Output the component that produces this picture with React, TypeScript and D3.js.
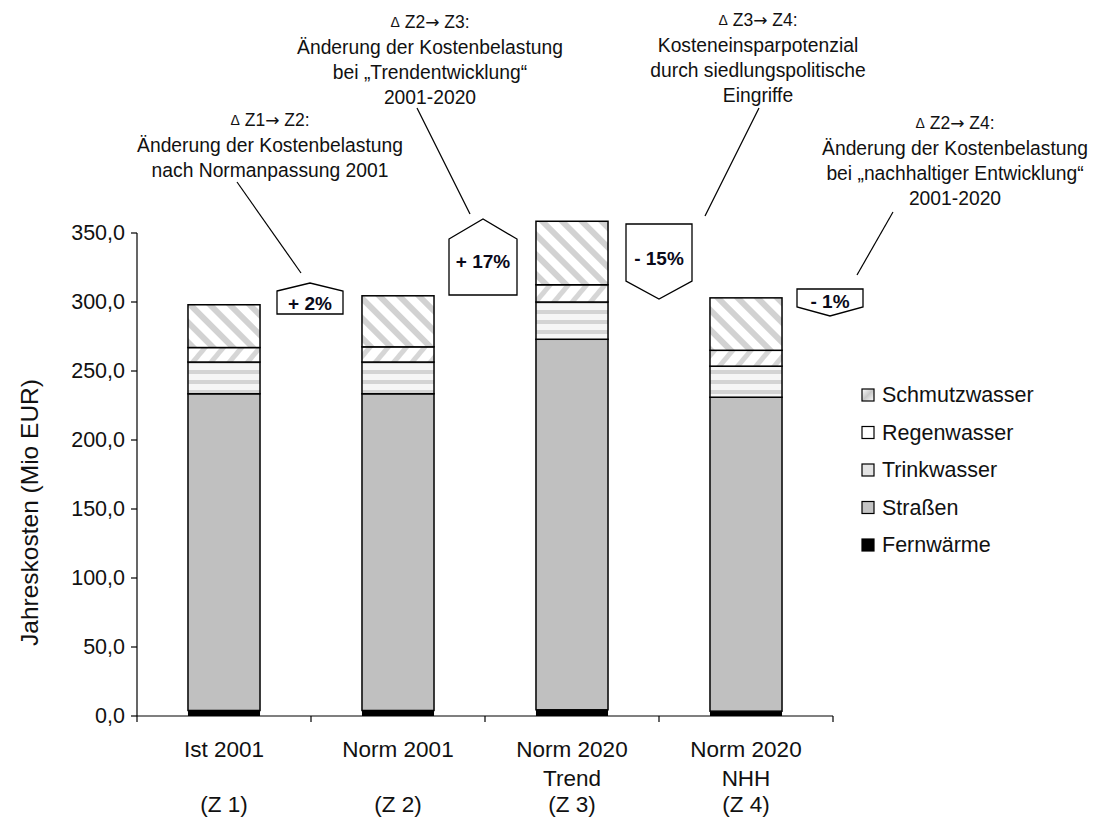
import React from "react";
import * as d3 from "d3";

const categories = ["Z1", "Z2", "Z3", "Z4"];
const catLine1 = ["Ist 2001", "Norm 2001", "Norm 2020", "Norm 2020"];
const catLine2 = ["", "", "Trend", "NHH"];
const catLine3 = ["(Z 1)", "(Z 2)", "(Z 3)", "(Z 4)"];

const fernwaerme = [4, 4, 4.5, 3.5];
const strassen = [229.5, 229.5, 268.5, 227.5];
const trinkwasser = [23, 23, 27, 22.5];
const regenwasser = [10.5, 11, 12.5, 11.5];
const schmutzwasser = [31, 37, 46, 38];

const seriesNames = ["Fernwärme", "Straßen", "Trinkwasser", "Regenwasser", "Schmutzwasser"];
const seriesValues = [fernwaerme, strassen, trinkwasser, regenwasser, schmutzwasser];
const seriesFills = ["#000000", "#c0c0c0", "url(#pTrink)", "url(#pRegen)", "url(#pSchmutz)"];
const legendOrder = ["Schmutzwasser", "Regenwasser", "Trinkwasser", "Straßen", "Fernwärme"];
const legendFills = ["url(#gSchmutz)", "#ffffff", "#e4e4e4", "#c4c4c4", "#000000"];

const yTicks = [0, 50, 100, 150, 200, 250, 300, 350];

const deltaLabels = ["+ 2%", "+ 17%", "- 15%", "- 1%"];
const deltaHeads = [
  ["Z1", "Z2"],
  ["Z2", "Z3"],
  ["Z3", "Z4"],
  ["Z2", "Z4"],
];
const calloutTexts = [
  ["Änderung der Kostenbelastung", "nach Normanpassung 2001"],
  ["Änderung der Kostenbelastung", "bei \u201eTrendentwicklung\u201c", "2001-2020"],
  ["Kosteneinsparpotenzial", "durch siedlungspolitische", "Eingriffe"],
  ["Änderung der Kostenbelastung", "bei \u201enachhaltiger Entwicklung\u201c", "2001-2020"],
];

const W = 1093;
const H = 818;
const FONT = "'Liberation Sans', Arial, sans-serif";

export default function App() {
  const left = 137;
  const right = 833;
  const x = d3
    .scaleBand<string>()
    .domain(categories)
    .range([left, right])
    .paddingInner(0.586)
    .paddingOuter(0.293);
  const y = d3.scaleLinear().domain([0, 350]).range([716, 233]);
  const step = x.step();

  const stackData = categories.map((c, i) => {
    const o: any = { cat: c };
    seriesNames.forEach((s, k) => (o[s] = seriesValues[k][i]));
    return o;
  });
  const stacked = d3.stack().keys(seriesNames)(stackData as any);

  const fmt = (v: number) => v.toFixed(1).replace(".", ",");

  const boundary = (i: number) => left + step * i;
  const b1 = boundary(1) - 1;
  const b2 = boundary(2) - 2;
  const b3 = boundary(3);
  const b4 = boundary(4) - 3;

  const box1 = `M${b1 - 33},${291} L${b1},${283} L${b1 + 33},${291} L${b1 + 33},${314} L${b1 - 33},${314} Z`;
  const box2 = `M${b2 - 34},${239} L${b2},${219} L${b2 + 34},${239} L${b2 + 34},${295} L${b2 - 34},${295} Z`;
  const box3 = `M${b3 - 33},${224} L${b3 + 33},${224} L${b3 + 33},${281} L${b3},${299} L${b3 - 33},${281} Z`;
  const box4 = `M${b4 - 33},${289} L${b4 + 33},${289} L${b4 + 33},${307} L${b4},${316} L${b4 - 33},${307} Z`;
  const boxes = [box1, box2, box3, box4];
  const boxTextY = [303, 261, 258, 301];
  const boxTextX = [b1, b2, b3, b4];

  const calloutX = [270, 430, 758, 955];
  const calloutY0 = [120, 22, 20, 123];
  const leaders = [
    [237, 182, 301, 273],
    [417, 108, 470, 214],
    [759, 108, 705, 216],
    [893, 212, 857, 275],
  ];

  return (
    <svg
      width={W}
      height={H}
      style={{ position: "absolute", left: 0, top: 0, background: "#fff" }}
      fontFamily={FONT}
    >
      <defs>
        <pattern id="pSchmutz" patternUnits="userSpaceOnUse" width="14" height="14" patternTransform="rotate(-45)">
          <rect width="14" height="14" fill="#ffffff" />
          <rect x="0" width="6" height="14" fill="#d2d2d2" />
        </pattern>
        <pattern id="pRegen" patternUnits="userSpaceOnUse" width="14" height="14" patternTransform="rotate(40)">
          <rect width="14" height="14" fill="#ffffff" />
          <rect x="0" width="5" height="14" fill="#d6d6d6" />
        </pattern>
        <pattern id="pTrink" patternUnits="userSpaceOnUse" width="10" height="10">
          <rect width="10" height="10" fill="#f6f6f6" />
          <rect y="0" width="10" height="4" fill="#d4d4d4" />
        </pattern>
        <linearGradient id="gSchmutz" x1="0" y1="0" x2="1" y2="1">
          <stop offset="0" stopColor="#ffffff" />
          <stop offset="0.5" stopColor="#c8c8c8" />
          <stop offset="1" stopColor="#ffffff" />
        </linearGradient>
      </defs>
      <rect width={W} height={H} fill="#ffffff" />

      {stacked.map((layer, k) => (
        <g key={layer.key}>
          {layer.map((d: any, i: number) => (
            <rect
              key={i}
              x={x(categories[i])}
              y={y(d[1])}
              width={x.bandwidth()}
              height={y(d[0]) - y(d[1])}
              fill={seriesFills[k]}
              stroke="#000"
              strokeWidth={k === 0 ? 0 : 1.5}
            />
          ))}
        </g>
      ))}

      <line x1={left} x2={left} y1={y(350)} y2={y(0)} stroke="#000" strokeWidth={1.2} />
      {yTicks.map((t) => (
        <g key={t}>
          <line x1={left - 6} x2={left} y1={y(t)} y2={y(t)} stroke="#000" strokeWidth={1.2} />
          <text
            x={left - 12}
            y={y(t)}
            textAnchor="end"
            dominantBaseline="central"
            fontSize={21.5}
            fill="#111"
          >
            {fmt(t)}
          </text>
        </g>
      ))}
      <text
        transform={`translate(29,${(y(0) + y(350)) / 2 + 38}) rotate(-90)`}
        textAnchor="middle"
        dominantBaseline="central"
        fontSize={24.5}
        fill="#111"
      >
        Jahreskosten (Mio EUR)
      </text>

      <line x1={left} x2={right} y1={y(0)} y2={y(0)} stroke="#000" strokeWidth={1.2} />
      {d3.range(categories.length + 1).map((i) => (
        <line
          key={i}
          x1={boundary(i)}
          x2={boundary(i)}
          y1={y(0)}
          y2={y(0) + 6}
          stroke="#000"
          strokeWidth={1.2}
        />
      ))}
      {categories.map((c, i) => {
        const cx = (x(c) as number) + x.bandwidth() / 2;
        return (
          <g key={c} fontSize={22.5} fill="#111" textAnchor="middle">
            <text x={cx} y={757}>{catLine1[i]}</text>
            {catLine2[i] && <text x={cx} y={786}>{catLine2[i]}</text>}
            <text x={cx} y={812}>{catLine3[i]}</text>
          </g>
        );
      })}

      {legendOrder.map((name, i) => {
        const cy = 395 + i * 37.5;
        return (
          <g key={name}>
            <rect
              x={862}
              y={cy - 6}
              width={12}
              height={12}
              fill={legendFills[i]}
              stroke="#000"
              strokeWidth={1.2}
            />
            <text x={882} y={cy} dominantBaseline="central" fontSize={21.5} fill="#111">
              {name}
            </text>
          </g>
        );
      })}

      {calloutTexts.map((lines, j) => (
        <g key={j}>
          <text
            x={calloutX[j]}
            y={calloutY0[j]}
            textAnchor="middle"
            dominantBaseline="central"
            fontSize={17.5}
            fill="#111"
          >
            <tspan fontSize={14}>{"\u0394"}</tspan>
            {" " + deltaHeads[j][0]}
            <tspan fontFamily="'DejaVu Sans', sans-serif" fontSize={17}>{"\u2192"}</tspan>
            {" " + deltaHeads[j][1] + ":"}
          </text>
          {lines.map((ln, k) => (
            <text
              key={k}
              x={calloutX[j]}
              y={calloutY0[j] + (k + 1) * 25}
              textAnchor="middle"
              dominantBaseline="central"
              fontSize={19.3}
              fill="#111"
            >
              {ln}
            </text>
          ))}
          <line
            x1={leaders[j][0]}
            y1={leaders[j][1]}
            x2={leaders[j][2]}
            y2={leaders[j][3]}
            stroke="#000"
            strokeWidth={1.2}
          />
          <path d={boxes[j]} fill="#fff" stroke="#000" strokeWidth={1.3} />
          <text
            x={boxTextX[j]}
            y={boxTextY[j]}
            textAnchor="middle"
            dominantBaseline="central"
            fontSize={19}
            fontWeight="bold"
            fill="#0a0a1a"
          >
            {deltaLabels[j]}
          </text>
        </g>
      ))}
    </svg>
  );
}
